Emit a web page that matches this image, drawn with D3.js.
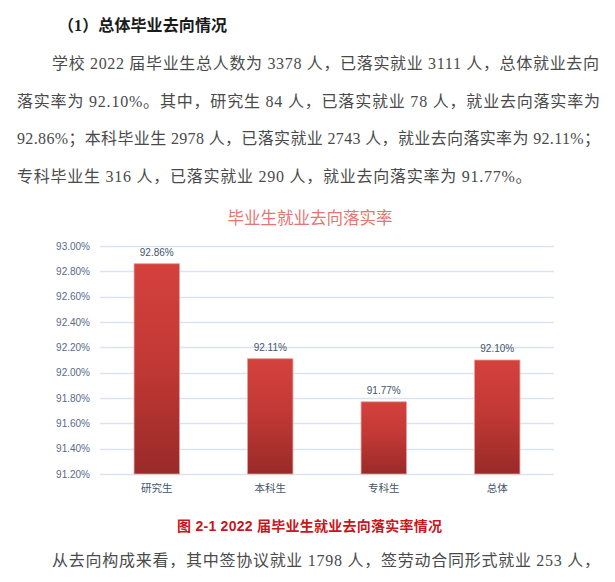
<!DOCTYPE html>
<html><head><meta charset="utf-8">
<script src="https://cdn.jsdelivr.net/npm/d3@7"></script>
<style>
html,body{margin:0;padding:0;background:#fff;}
svg{display:block;}
</style>
</head><body>
<svg id="c" width="615" height="582"></svg>
<script>
// ---- data ----
const categories = ["研究生", "本科生", "专科生", "总体"];
const rates = [92.86, 92.11, 91.77, 92.10];
const yTickValues = [91.2, 91.4, 91.6, 91.8, 92.0, 92.2, 92.4, 92.6, 92.8, 93.0];
const chartTitle = "毕业生就业去向落实率";
const heading = "（1）总体毕业去向情况";
const paraLines = [
  "学校 2022 届毕业生总人数为 3378 人，已落实就业 3111 人，总体就业去向",
  "落实率为 92.10%。其中，研究生 84 人，已落实就业 78 人，就业去向落实率为",
  "92.86%；本科毕业生 2978 人，已落实就业 2743 人，就业去向落实率为 92.11%；",
  "专科毕业生 316 人，已落实就业 290 人，就业去向落实率为 91.77%。"
];
const caption = "图 2-1 2022 届毕业生就业去向落实率情况";
const tailLine = "从去向构成来看，其中签协议就业 1798 人，签劳动合同形式就业 253 人，";

// ---- drawing ----
const svg = d3.select("#c");
const serif = "'Liberation Serif','Noto Sans CJK SC',serif";
const sans = "'Liberation Sans','Noto Sans CJK SC',sans-serif";

// heading
svg.append("text").attr("x", 58).attr("y", 31)
  .attr("font-family", serif).attr("font-size", 16).attr("font-weight", "bold")
  .attr("fill", "#1a1a1a").attr("textLength", 169).attr("lengthAdjust", "spacing")
  .text(heading);

// paragraph
const lineSpec = [
  {x: 52, y: 69, w: 547},
  {x: 17, y: 107, w: 583},
  {x: 17, y: 144, w: 583},
  {x: 17, y: 182, w: null}
];
paraLines.forEach((t, i) => {
  const s = lineSpec[i];
  const el = svg.append("text").attr("x", s.x).attr("y", s.y)
    .attr("font-family", serif).attr("font-size", 16).attr("fill", "#4a4a4a")
    .text(t);
  if (s.w) el.attr("textLength", s.w).attr("lengthAdjust", "spacing");
  else el.attr("letter-spacing", 0.75);
});

// chart
const x = d3.scaleBand().domain(categories).range([100, 554]).paddingInner(0.6).paddingOuter(0.3);
const y = d3.scaleLinear().domain([91.2, 93.0]).range([474, 246]);

const defs = svg.append("defs");
const grad = defs.append("linearGradient").attr("id", "barGrad")
  .attr("x1", 0).attr("y1", 0).attr("x2", 0).attr("y2", 1);
grad.append("stop").attr("offset", "0%").attr("stop-color", "#d4413d");
grad.append("stop").attr("offset", "45%").attr("stop-color", "#c33935");
grad.append("stop").attr("offset", "100%").attr("stop-color", "#992a28");

// title
svg.append("text").attr("x", 310).attr("y", 224).attr("text-anchor", "middle")
  .attr("font-family", serif).attr("font-size", 16.5).attr("fill", "#e77472")
  .text(chartTitle);

// gridlines
const grid = svg.append("g");
grid.selectAll("line").data(yTickValues).join("line")
  .attr("x1", 100).attr("x2", 554)
  .attr("y1", d => Math.round(y(d)) + 0.5).attr("y2", d => Math.round(y(d)) + 0.5)
  .attr("stroke", "#dae4f0").attr("stroke-width", 1.5);

// y axis
const yAxis = svg.append("g").attr("transform", "translate(96,0)")
  .call(d3.axisLeft(y).tickValues(yTickValues).tickSize(0).tickPadding(6)
    .tickFormat(d => d3.format(".2f")(d) + "%"));
yAxis.select(".domain").remove();
yAxis.selectAll("text").attr("font-family", sans).attr("font-size", 10)
  .attr("fill", "#586a8a");

// bars
svg.append("g").selectAll("rect").data(rates).join("rect")
  .attr("x", (d, i) => x(categories[i]))
  .attr("width", x.bandwidth())
  .attr("y", d => y(d))
  .attr("height", d => y(91.2) - y(d))
  .attr("fill", "url(#barGrad)")
  .attr("stroke", "#e2a09e").attr("stroke-width", 0.8);

// value labels
svg.append("g").selectAll("text").data(rates).join("text")
  .attr("x", (d, i) => x(categories[i]) + x.bandwidth() / 2)
  .attr("y", d => y(d) - 8)
  .attr("text-anchor", "middle")
  .attr("font-family", sans).attr("font-size", 10).attr("fill", "#44546a")
  .text(d => d3.format(".2f")(d) + "%");

// x axis
const xAxis = svg.append("g").attr("transform", "translate(0,474)")
  .call(d3.axisBottom(x).tickSize(0).tickPadding(11));
xAxis.select(".domain").remove();
xAxis.selectAll("text").attr("font-family", sans).attr("font-size", 10.5)
  .attr("fill", "#44546a");

// caption
svg.append("text").attr("x", 309.5).attr("y", 531).attr("text-anchor", "middle")
  .attr("font-family", sans).attr("font-size", 14).attr("font-weight", "bold")
  .attr("fill", "#c8161d").attr("textLength", 265).attr("lengthAdjust", "spacing")
  .text(caption);

// tail line
svg.append("text").attr("x", 52).attr("y", 566)
  .attr("font-family", serif).attr("font-size", 16).attr("fill", "#4a4a4a")
  .attr("textLength", 548).attr("lengthAdjust", "spacing")
  .text(tailLine);
</script>
</body></html>
